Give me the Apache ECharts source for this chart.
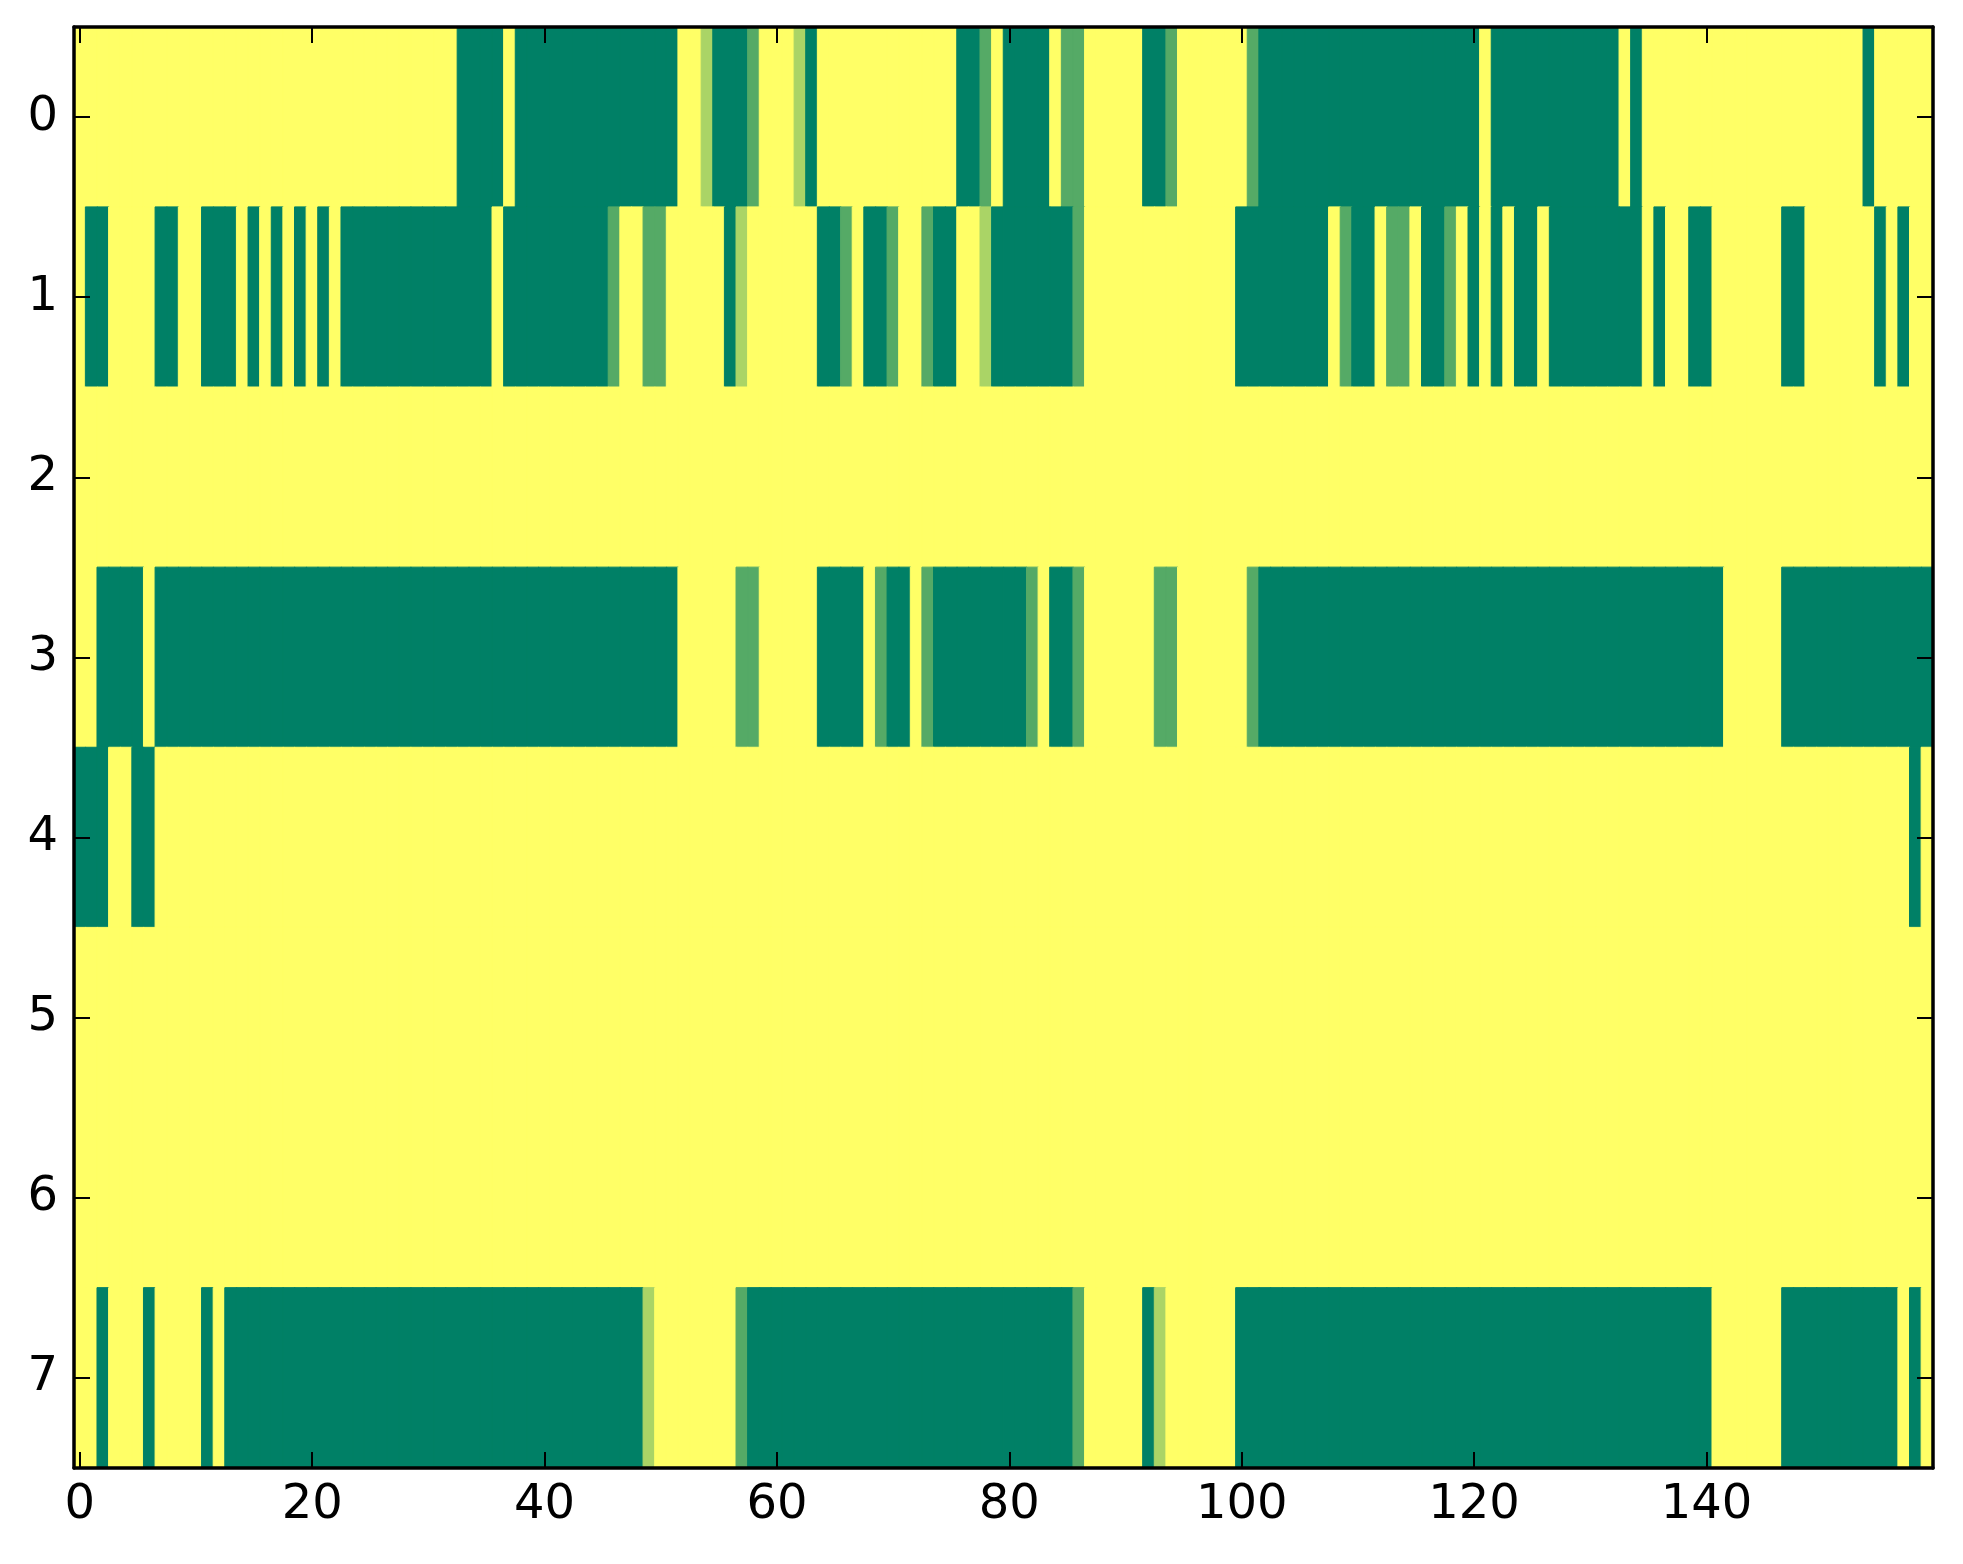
<!DOCTYPE html>
<html>
<head>
<meta charset="utf-8">
<script src="https://cdn.jsdelivr.net/npm/echarts@6/dist/echarts.min.js"></script>
<style>
html,body{margin:0;padding:0;background:#fff;}
#chart{width:1963px;height:1564px;}
</style>
</head>
<body>
<div id="chart"></div>
<script>
// Row labels (y categories) and x tick labels
const rowLabels = ['0','1','2','3','4','5','6','7'];
const xTickLabels = [0, 20, 40, 60, 80, 100, 120, 140];
const columnCount = 160;

// Cell values per row (0 = dark green ... 3 = yellow), columns 0..159
const row0 = [
3,3,3,3,3,3,3,3,3,3, 3,3,3,3,3,3,3,3,3,3, 3,3,3,3,3,3,3,3,3,3, 3,3,3,0,0,0,0,3,0,0,
0,0,0,0,0,0,0,0,0,0, 0,0,3,3,2,0,0,0,1,3, 3,3,2,0,3,3,3,3,3,3, 3,3,3,3,3,3,0,0,1,3,
0,0,0,0,3,1,1,3,3,3, 3,3,0,0,1,3,3,3,3,3, 3,1,0,0,0,0,0,0,0,0, 0,0,0,0,0,0,0,0,0,0,
0,3,0,0,0,0,0,0,0,0, 0,0,0,3,0,3,3,3,3,3, 3,3,3,3,3,3,3,3,3,3, 3,3,3,3,0,3,3,3,3,3
];
const row1 = [
3,0,0,3,3,3,3,0,0,3, 3,0,0,0,3,0,3,0,3,0, 3,0,3,0,0,0,0,0,0,0, 0,0,0,0,0,0,3,0,0,0,
0,0,0,0,0,0,1,3,3,1, 1,3,3,3,3,3,0,2,3,3, 3,3,3,3,0,0,1,3,0,0, 1,3,3,1,0,0,3,3,2,0,
0,0,0,0,0,0,1,3,3,3, 3,3,3,3,3,3,3,3,3,3, 0,0,0,0,0,0,0,0,3,1, 0,0,3,1,1,3,0,0,1,3,
0,3,0,3,0,0,3,0,0,0, 0,0,0,0,0,3,0,3,3,0, 0,3,3,3,3,3,3,0,0,3, 3,3,3,3,3,0,3,0,3,3
];
const row2 = [
3,3,3,3,3,3,3,3,3,3, 3,3,3,3,3,3,3,3,3,3, 3,3,3,3,3,3,3,3,3,3, 3,3,3,3,3,3,3,3,3,3,
3,3,3,3,3,3,3,3,3,3, 3,3,3,3,3,3,3,3,3,3, 3,3,3,3,3,3,3,3,3,3, 3,3,3,3,3,3,3,3,3,3,
3,3,3,3,3,3,3,3,3,3, 3,3,3,3,3,3,3,3,3,3, 3,3,3,3,3,3,3,3,3,3, 3,3,3,3,3,3,3,3,3,3,
3,3,3,3,3,3,3,3,3,3, 3,3,3,3,3,3,3,3,3,3, 3,3,3,3,3,3,3,3,3,3, 3,3,3,3,3,3,3,3,3,3
];
const row3 = [
3,3,0,0,0,0,3,0,0,0, 0,0,0,0,0,0,0,0,0,0, 0,0,0,0,0,0,0,0,0,0, 0,0,0,0,0,0,0,0,0,0,
0,0,0,0,0,0,0,0,0,0, 0,0,3,3,3,3,3,1,1,3, 3,3,3,3,0,0,0,0,3,1, 0,0,3,1,0,0,0,0,0,0,
0,0,1,3,0,0,1,3,3,3, 3,3,3,1,1,3,3,3,3,3, 3,1,0,0,0,0,0,0,0,0, 0,0,0,0,0,0,0,0,0,0,
0,0,0,0,0,0,0,0,0,0, 0,0,0,0,0,0,0,0,0,0, 0,0,3,3,3,3,3,0,0,0, 0,0,0,0,0,0,0,0,0,0
];
const row4 = [
0,0,0,3,3,0,0,3,3,3, 3,3,3,3,3,3,3,3,3,3, 3,3,3,3,3,3,3,3,3,3, 3,3,3,3,3,3,3,3,3,3,
3,3,3,3,3,3,3,3,3,3, 3,3,3,3,3,3,3,3,3,3, 3,3,3,3,3,3,3,3,3,3, 3,3,3,3,3,3,3,3,3,3,
3,3,3,3,3,3,3,3,3,3, 3,3,3,3,3,3,3,3,3,3, 3,3,3,3,3,3,3,3,3,3, 3,3,3,3,3,3,3,3,3,3,
3,3,3,3,3,3,3,3,3,3, 3,3,3,3,3,3,3,3,3,3, 3,3,3,3,3,3,3,3,3,3, 3,3,3,3,3,3,3,3,0,3
];
const row5 = [
3,3,3,3,3,3,3,3,3,3, 3,3,3,3,3,3,3,3,3,3, 3,3,3,3,3,3,3,3,3,3, 3,3,3,3,3,3,3,3,3,3,
3,3,3,3,3,3,3,3,3,3, 3,3,3,3,3,3,3,3,3,3, 3,3,3,3,3,3,3,3,3,3, 3,3,3,3,3,3,3,3,3,3,
3,3,3,3,3,3,3,3,3,3, 3,3,3,3,3,3,3,3,3,3, 3,3,3,3,3,3,3,3,3,3, 3,3,3,3,3,3,3,3,3,3,
3,3,3,3,3,3,3,3,3,3, 3,3,3,3,3,3,3,3,3,3, 3,3,3,3,3,3,3,3,3,3, 3,3,3,3,3,3,3,3,3,3
];
const row6 = [
3,3,3,3,3,3,3,3,3,3, 3,3,3,3,3,3,3,3,3,3, 3,3,3,3,3,3,3,3,3,3, 3,3,3,3,3,3,3,3,3,3,
3,3,3,3,3,3,3,3,3,3, 3,3,3,3,3,3,3,3,3,3, 3,3,3,3,3,3,3,3,3,3, 3,3,3,3,3,3,3,3,3,3,
3,3,3,3,3,3,3,3,3,3, 3,3,3,3,3,3,3,3,3,3, 3,3,3,3,3,3,3,3,3,3, 3,3,3,3,3,3,3,3,3,3,
3,3,3,3,3,3,3,3,3,3, 3,3,3,3,3,3,3,3,3,3, 3,3,3,3,3,3,3,3,3,3, 3,3,3,3,3,3,3,3,3,3
];
const row7 = [
3,3,0,3,3,3,0,3,3,3, 3,0,3,0,0,0,0,0,0,0, 0,0,0,0,0,0,0,0,0,0, 0,0,0,0,0,0,0,0,0,0,
0,0,0,0,0,0,0,0,0,2, 3,3,3,3,3,3,3,1,0,0, 0,0,0,0,0,0,0,0,0,0, 0,0,0,0,0,0,0,0,0,0,
0,0,0,0,0,0,1,3,3,3, 3,3,0,2,3,3,3,3,3,3, 0,0,0,0,0,0,0,0,0,0, 0,0,0,0,0,0,0,0,0,0,
0,0,0,0,0,0,0,0,0,0, 0,0,0,0,0,0,0,0,0,0, 0,3,3,3,3,3,3,0,0,0, 0,0,0,0,0,0,0,3,0,3
];
const rows = [row0, row1, row2, row3, row4, row5, row6, row7];

// Colour for each level (summer colormap)
const levelColors = ['#008066', '#55aa66', '#aad466', '#ffff66'];

const columns = [];
for (let c = 0; c < columnCount; c++) columns.push(String(c));
const tickSet = new Set(xTickLabels.map(String));
const showTick = function (idx, val) { return tickSet.has(String(val)); };

const cells = [];
rows.forEach(function (vals, r) {
  vals.forEach(function (v, c) {
    cells.push({value: [c, r, v], itemStyle: {borderColor: levelColors[v], borderWidth: 1}});
  });
});

const font = 'DejaVu Sans';
const lineW = 3.5;
function axisCommon(extra) {
  return Object.assign({
    z: 10,
    axisLine: {show: true, onZero: false, lineStyle: {color: '#000', width: lineW}},
    splitLine: {show: false}, splitArea: {show: false}
  }, extra);
}
const chart = echarts.init(document.getElementById('chart'), null, {renderer: 'canvas'});
chart.setOption({
  animation: false,
  backgroundColor: '#ffffff',
  grid: {left: 74, top: 27, right: 30, bottom: 96},
  visualMap: {
    type: 'piecewise', show: false, dimension: 2, seriesIndex: 0,
    pieces: levelColors.map(function (col, i) { return {value: i, color: col}; })
  },
  xAxis: [
    axisCommon({
      type: 'category', data: columns, position: 'bottom',
      axisTick: {show: true, inside: true, length: 16, alignWithLabel: true, interval: showTick,
                 lineStyle: {color: '#000', width: 2}},
      axisLabel: {show: true, interval: showTick, fontSize: 48, color: '#000', fontFamily: font, margin: 14}
    }),
    axisCommon({
      type: 'category', data: columns, position: 'top',
      axisTick: {show: true, inside: true, length: 16, alignWithLabel: true, interval: showTick,
                 lineStyle: {color: '#000', width: 2}},
      axisLabel: {show: false}
    })
  ],
  yAxis: [
    axisCommon({
      type: 'category', data: rowLabels, inverse: true, position: 'left',
      axisTick: {show: true, inside: true, length: 16, alignWithLabel: true, interval: 0,
                 lineStyle: {color: '#000', width: 2}},
      axisLabel: {show: true, interval: 0, fontSize: 48, color: '#000', fontFamily: font, margin: 16}
    }),
    axisCommon({
      type: 'category', data: rowLabels, inverse: true, position: 'right',
      axisTick: {show: true, inside: true, length: 16, alignWithLabel: true, interval: 0,
                 lineStyle: {color: '#000', width: 2}},
      axisLabel: {show: false}
    })
  ],
  series: [{
    type: 'heatmap', xAxisIndex: 0, yAxisIndex: 0, data: cells,
    progressive: 0, z: 1,
    emphasis: {disabled: true}
  }]
});
</script>
</body>
</html>
